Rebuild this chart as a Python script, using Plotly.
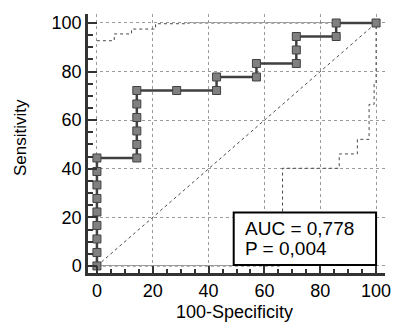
import plotly.graph_objects as go

# ROC curve (100-Specificity, Sensitivity)
roc_x = [0, 0, 0, 0, 0, 0, 0, 0, 0,
         14.29, 14.29, 14.29, 14.29, 14.29, 14.29,
         28.57, 42.86, 42.86, 57.14, 57.14, 71.43, 71.43, 71.43,
         85.71, 85.71, 100]
roc_y = [0, 5.56, 11.11, 16.67, 22.22, 27.78, 33.33, 38.89, 44.44,
         44.44, 50.0, 55.56, 61.11, 66.67, 72.22,
         72.22, 72.22, 77.78, 77.78, 83.33, 83.33, 88.89, 94.44,
         94.44, 100, 100]

# confidence bands (step lines)
upper_x = [0, 6.2, 12.4, 21.0, 32.5, 100]
upper_y = [92.7, 95.5, 97.5, 99.7, 100, 100]
lower_x = [0, 66.5, 86.8, 93.3, 97.5, 99.3, 100]
lower_y = [0, 40.2, 46.1, 52.1, 66.5, 75.2, 100]

diag_x = [0, 100]
diag_y = [0, 100]

tick_vals = [0, 20, 40, 60, 80, 100]
auc_text = "AUC = 0,778"
p_text = "P = 0,004"

FONT = "Liberation Sans, Arial, sans-serif"
DARK = "#333333"

fig = go.Figure()
fig.add_trace(go.Scatter(x=diag_x, y=diag_y, mode="lines",
                         line=dict(color="#4a4a4a", width=1, dash="dot"),
                         hoverinfo="skip", showlegend=False))
fig.add_trace(go.Scatter(x=upper_x, y=upper_y, mode="lines",
                         line=dict(color="#4a4a4a", width=1, dash="dot", shape="hv"),
                         showlegend=False))
fig.add_trace(go.Scatter(x=lower_x, y=lower_y, mode="lines",
                         line=dict(color="#4a4a4a", width=1, dash="dot", shape="hv"),
                         showlegend=False))
fig.add_trace(go.Scatter(x=roc_x, y=roc_y, mode="lines+markers",
                         line=dict(color="#404040", width=2.5),
                         marker=dict(symbol="square", size=8, color="#808080",
                                     line=dict(color="#404040", width=1)),
                         showlegend=False))

fig.add_shape(type="rect", xref="x", yref="y", x0=49, x1=100, y0=0.4, y1=22,
              line=dict(color="black", width=2), fillcolor="white", layer="above")

fig.add_annotation(x=52.3, y=15.6, xref="x", yref="y", text=auc_text,
                   showarrow=False, xanchor="left", yanchor="middle",
                   font=dict(family=FONT, size=19, color="black"))
fig.add_annotation(x=52.3, y=7.2, xref="x", yref="y", text=p_text,
                   showarrow=False, xanchor="left", yanchor="middle",
                   font=dict(family=FONT, size=19, color="black"))

# axis titles
fig.add_annotation(x=-0.229, y=0.525, xref="paper", yref="paper", text="Sensitivity",
                   showarrow=False, textangle=-90, xanchor="center", yanchor="middle",
                   font=dict(family=FONT, size=17, color="black"))
fig.add_annotation(x=0.493, y=-0.152, xref="paper", yref="paper", text="100-Specificity",
                   showarrow=False, xanchor="center", yanchor="middle",
                   font=dict(family=FONT, size=18, color="black"))

axis_common = dict(
    tickvals=tick_vals, ticks="inside", tickcolor=DARK, tickwidth=2,
    showline=True, linecolor=DARK, linewidth=2.5,
    showgrid=True, gridcolor="#9a9a9a", gridwidth=1, griddash="dot",
    zeroline=False, automargin=False,
    tickfont=dict(family=FONT, size=18, color="black"),
)
fig.update_xaxes(range=[-3.2, 103.2], ticklen=7, ticklabelstandoff=0,
                 minor=dict(dtick=5, tick0=0, ticks="inside", ticklen=4,
                            tickcolor=DARK, tickwidth=1.5, showgrid=False),
                 **axis_common)
fig.update_yaxes(range=[-2.9, 103.7], ticklen=9, ticklabelstandoff=0,
                 minor=dict(dtick=5, tick0=0, ticks="inside", ticklen=5,
                            tickcolor=DARK, tickwidth=1.5, showgrid=False),
                 **axis_common)

fig.update_layout(
    width=393, height=322,
    margin=dict(l=88, r=8, t=14, b=49),
    paper_bgcolor="white", plot_bgcolor="white",
    font=dict(family=FONT),
)

fig.write_html("out.html", config={"displayModeBar": False},
               post_script="document.body.style.margin='0';document.body.style.padding='0';")
